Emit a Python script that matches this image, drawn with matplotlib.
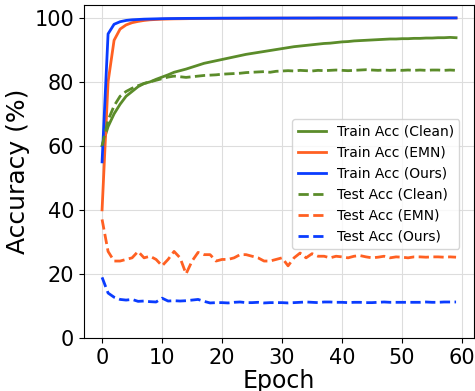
import numpy as np
import matplotlib
matplotlib.use('Agg')
import matplotlib.pyplot as plt

epochs = np.arange(60)

train_clean = [60, 66, 70, 73, 75.5, 77, 78.5, 79.5, 80, 80.8, 81.5, 82.2, 83, 83.5, 84, 84.6,
               85.2, 85.8, 86.2, 86.6, 87, 87.4, 87.8, 88.2, 88.6, 88.9, 89.2, 89.5, 89.8, 90.1,
               90.4, 90.7, 91, 91.2, 91.4, 91.6, 91.8, 92, 92.1, 92.3, 92.5, 92.6, 92.8, 92.9,
               93, 93.1, 93.2, 93.3, 93.4, 93.4, 93.5, 93.5, 93.6, 93.6, 93.7, 93.7, 93.8, 93.8,
               93.9, 93.8]
train_emn = [40, 80, 93, 96.5, 97.8, 98.5, 98.9, 99.2, 99.4, 99.5, 99.6, 99.65, 99.7, 99.72,
             99.75, 99.78, 99.8, 99.82, 99.84, 99.85, 99.86, 99.87, 99.88, 99.88, 99.89, 99.9,
             99.9, 99.9, 99.91, 99.91, 99.92, 99.92, 99.92, 99.93, 99.93, 99.93, 99.94, 99.94,
             99.94, 99.94, 99.95, 99.95, 99.95, 99.95, 99.95, 99.96, 99.96, 99.96, 99.96, 99.96,
             99.96, 99.97, 99.97, 99.97, 99.97, 99.97, 99.97, 99.97, 99.98, 99.98]
train_ours = [55, 95, 98, 98.8, 99.2, 99.4, 99.5, 99.6, 99.65, 99.7, 99.75, 99.78, 99.8, 99.82,
              99.84, 99.85, 99.86, 99.87, 99.88, 99.89, 99.9, 99.9, 99.91, 99.91, 99.92, 99.92,
              99.93, 99.93, 99.93, 99.94, 99.94, 99.94, 99.95, 99.95, 99.95, 99.95, 99.96, 99.96,
              99.96, 99.96, 99.96, 99.97, 99.97, 99.97, 99.97, 99.97, 99.97, 99.98, 99.98, 99.98,
              99.98, 99.98, 99.98, 99.98, 99.98, 99.99, 99.99, 99.99, 99.99, 99.99]
test_clean = [60, 68, 72.5, 75.5, 77, 78, 78.8, 79.5, 80, 80.5, 81, 81.5, 81.8, 81.6, 81.4, 81.6,
              81.8, 82, 82.1, 82.2, 82.4, 82.5, 82.6, 82.7, 82.9, 83, 83.1, 83.2, 83, 83.3, 83.4,
              83.5, 83.4, 83.6, 83.5, 83.4, 83.6, 83.5, 83.6, 83.7, 83.6, 83.5, 83.6, 83.7, 83.8,
              83.7, 83.6, 83.7, 83.6, 83.7, 83.6, 83.7, 83.6, 83.7, 83.6, 83.7, 83.7, 83.6, 83.7,
              83.6]
test_emn = [37, 27, 24, 24, 24.5, 25, 27, 25, 25.5, 24.5, 22.5, 24.5, 27, 25, 20, 24, 26.7, 26,
            26, 24, 24.5, 24.5, 25, 26, 26, 25.5, 25, 24, 24, 24.5, 25, 22.5, 25, 26.5, 25, 26.3,
            25.5, 25.5, 25, 25.5, 25.3, 25, 25.5, 25.7, 25.3, 25, 25.2, 25.5, 25, 25.3, 25.2, 25,
            25.3, 25.3, 25.2, 25.3, 25.3, 25.2, 25.3, 25.2]
test_ours = [18.9, 14, 12.7, 12, 11.8, 12, 11.4, 11.5, 11.3, 11.2, 12.4, 11.5, 11.6, 11.5, 11.6,
             11.8, 12, 11.4, 10.9, 11, 11, 10.9, 11.1, 11.2, 11, 11, 11.1, 10.9, 11, 11, 11,
             10.9, 11, 11.1, 11.2, 11.1, 11, 11.2, 11.2, 11.1, 11.1, 11, 11.1, 11.1, 11, 11,
             11.1, 11.2, 11.1, 11.1, 11.1, 11.1, 11.1, 11.1, 11.2, 11.1, 11.1, 11.2, 11.2, 11.2]

green = '#5b8c2a'
orange = '#ff6022'
blue = '#0a3cff'

fig = plt.figure(figsize=(4.75, 3.91), dpi=100)
ax = fig.add_axes([0.177, 0.136, 0.821, 0.851])

ax.plot(epochs, train_clean, color=green, lw=2, label='Train Acc (Clean)')
ax.plot(epochs, train_emn, color=orange, lw=2, label='Train Acc (EMN)')
ax.plot(epochs, train_ours, color=blue, lw=2, label='Train Acc (Ours)')
ax.plot(epochs, test_clean, color=green, lw=2, ls='--', label='Test Acc (Clean)')
ax.plot(epochs, test_emn, color=orange, lw=2, ls='--', label='Test Acc (EMN)')
ax.plot(epochs, test_ours, color=blue, lw=2, ls='--', label='Test Acc (Ours)')

ax.set_xlim(-3, 62)
ax.set_ylim(0, 104)
ax.set_xticks([0, 10, 20, 30, 40, 50, 60])
ax.set_yticks([0, 20, 40, 60, 80, 100])
ax.tick_params(labelsize=15)
ax.grid(True, color='#dddddd', lw=0.8)
ax.set_xlabel('Epoch', fontsize=17, labelpad=1)
ax.set_ylabel('Accuracy (%)', fontsize=18, labelpad=3)
ax.legend(fontsize=10, loc='center right', bbox_to_anchor=(0.98, 0.462))

fig.savefig('out.png', dpi=100)
